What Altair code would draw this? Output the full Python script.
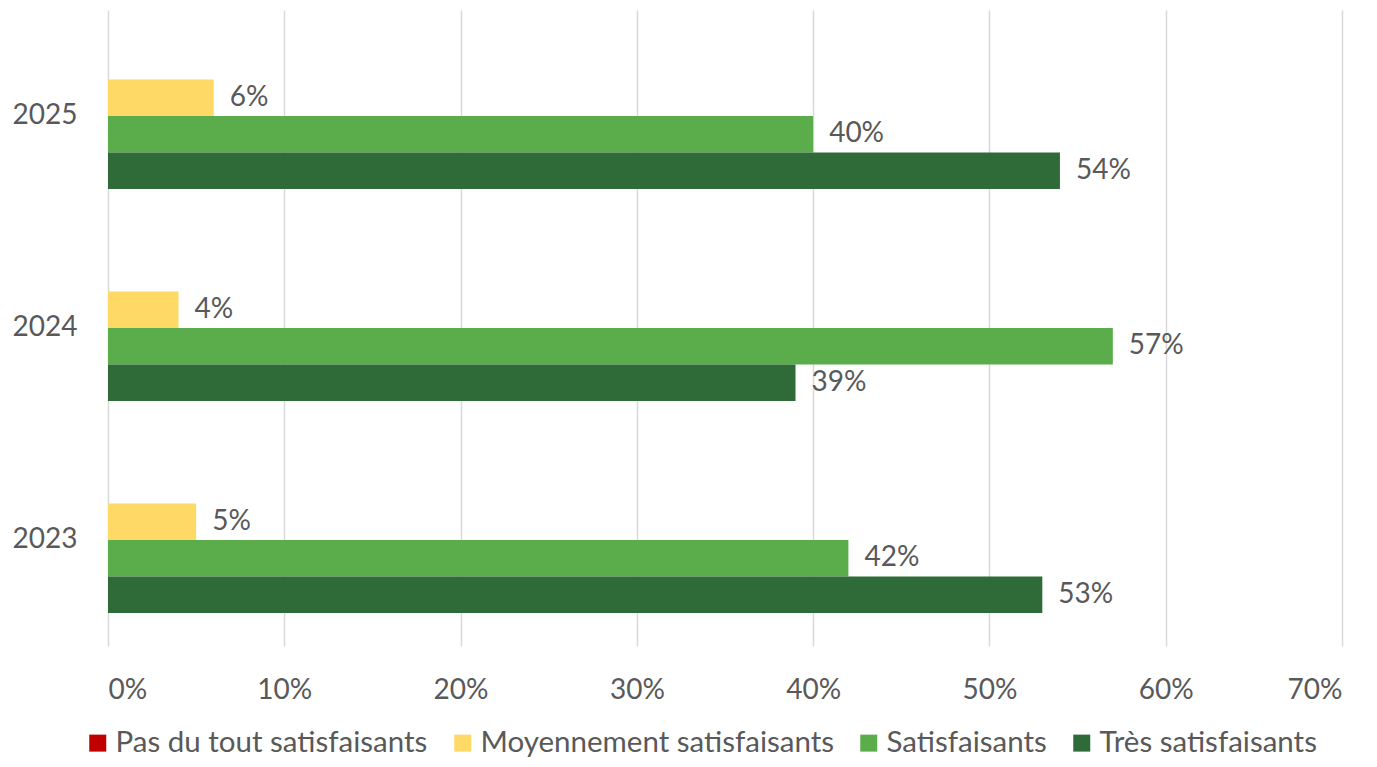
import altair as alt
import pandas as pd

years = ["2025", "2024", "2023"]
series = ["Pas du tout satisfaisants", "Moyennement satisfaisants", "Satisfaisants", "Très satisfaisants"]
colors = ["#C00000", "#FFD966", "#5AAD4A", "#2E6B38"]
pas_du_tout = [0, 0, 0]
moyennement = [6, 4, 5]
satisfaisants = [40, 57, 42]
tres = [54, 39, 53]
x_ticks = [0, 10, 20, 30, 40, 50, 60, 70]

rows = []
for i, y in enumerate(years):
    for s, vals in zip(series, [pas_du_tout, moyennement, satisfaisants, tres]):
        rows.append({"year": y, "series": s, "value": vals[i]})
df = pd.DataFrame(rows)

FONT = "Lato"
TXT = "#595959"
FS = 28

y_enc = alt.Y("year:N", sort=years,
              scale=alt.Scale(paddingInner=0.311, paddingOuter=0.1555),
              axis=alt.Axis(title=None, domain=False, ticks=False, grid=False,
                            labelFontSize=FS, labelColor=TXT, labelFont=FONT,
                            labelPadding=31))
yoff = alt.YOffset("series:N", sort=series, scale=alt.Scale(paddingInner=0, paddingOuter=0))
x_scale = alt.Scale(domain=[0, 70])

bars = alt.Chart(df).mark_bar().encode(
    y=y_enc,
    yOffset=yoff,
    x=alt.X("value:Q", scale=x_scale,
            axis=alt.Axis(title=None, values=x_ticks, labelExpr="datum.value + '%'",
                          domain=False, ticks=False, grid=True, gridColor="#D9D9D9",
                          gridWidth=1.5, labelFontSize=FS, labelColor=TXT, labelFont=FONT,
                          labelPadding=30)),
    color=alt.Color("series:N", sort=series,
                    scale=alt.Scale(domain=series, range=colors),
                    legend=alt.Legend(title=None, orient="none", legendX=-25, legendY=718,
                                      direction="horizontal", columns=4, symbolType="square",
                                      symbolSize=289, symbolStrokeWidth=0, padding=0,
                                      labelFontSize=29.5, labelFont=FONT, labelColor=TXT,
                                      labelOffset=3, columnPadding=20,
                                      labelLimit=600)),
)

labels = alt.Chart(df).transform_filter("datum.value > 0").transform_calculate(
    label="datum.value + '%'"
).mark_text(align="left", baseline="middle", dx=16, fontSize=FS, font=FONT, color=TXT).encode(
    y=alt.Y("year:N", sort=years),
    yOffset=alt.YOffset("series:N", sort=series),
    x=alt.X("value:Q", scale=x_scale),
    text="label:N",
)

chart = alt.layer(bars, labels).properties(
    width=1234, height=636,
    autosize=alt.AutoSizeParams(type="none"),
    padding={"left": 100, "top": 2, "right": 27, "bottom": 113},
).configure_view(stroke=None)

chart.save("out.html", embed_options={"renderer": "svg", "actions": False})
